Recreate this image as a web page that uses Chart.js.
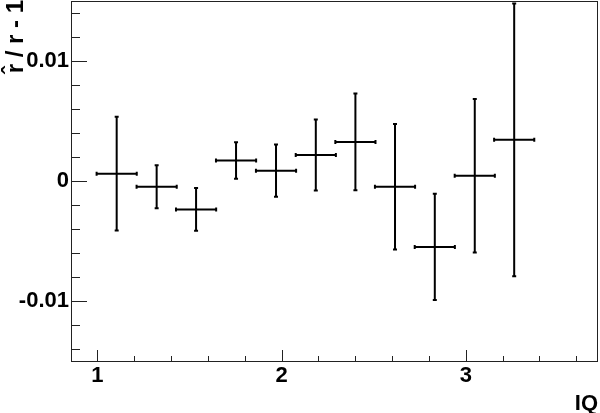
<!DOCTYPE html>
<html>
<head>
<meta charset="utf-8">
<script src="https://cdn.jsdelivr.net/npm/chart.js@4"></script>
<style>
  body { margin: 0; background: #fff; }
  #wrap { width: 600px; height: 413px; }
</style>
</head>
<body>
<div id="wrap"><canvas id="ratioChart" width="600" height="413"></canvas></div>
<script>
// bin centres (IQ) and measured r^/r - 1 with errors
const iqCenters = [1.105, 1.322, 1.536, 1.753, 1.970, 2.186, 2.401, 2.616, 2.832, 3.049, 3.263];
const iqHalfWidth = [0.109, 0.109, 0.109, 0.109, 0.109, 0.109, 0.109, 0.109, 0.109, 0.109, 0.109];
const ratioValues = [0.00061, -0.00048, -0.00237, 0.00170, 0.00086, 0.00217, 0.00326, -0.00048, -0.00549, 0.00044, 0.00343];
const ratioErrors = [0.00474, 0.00180, 0.00178, 0.00152, 0.00218, 0.00296, 0.00404, 0.00522, 0.00443, 0.00640, 0.01137];

const xTickLabels = [1, 2, 3];
const yTickLabels = [-0.01, 0, 0.01];

const boldFont = "'Liberation Sans', Arial, sans-serif";

// ROOT-style frame, inward ticks, error bars, axis titles
const rootStyle = {
    id: 'rootStyle',
    afterDatasetsDraw(chart) {
        const ctx = chart.ctx;
        const xs = chart.scales.x;
        const ys = chart.scales.y;
        const area = chart.chartArea;

        ctx.save();
        ctx.strokeStyle = '#000';
        ctx.lineWidth = 2;
        iqCenters.forEach((xv, i) => {
            const px = xs.getPixelForValue(xv);
            const py = ys.getPixelForValue(ratioValues[i]);
            const x0 = xs.getPixelForValue(xv - iqHalfWidth[i]);
            const x1 = xs.getPixelForValue(xv + iqHalfWidth[i]);
            const y0 = ys.getPixelForValue(ratioValues[i] + ratioErrors[i]);
            const y1 = ys.getPixelForValue(ratioValues[i] - ratioErrors[i]);
            ctx.beginPath();
            ctx.moveTo(x0, py); ctx.lineTo(x1, py);
            ctx.moveTo(px, y0); ctx.lineTo(px, y1);
            // small end caps
            ctx.moveTo(x0, py - 2); ctx.lineTo(x0, py + 2);
            ctx.moveTo(x1, py - 2); ctx.lineTo(x1, py + 2);
            ctx.moveTo(px - 2, y0); ctx.lineTo(px + 2, y0);
            ctx.moveTo(px - 2, y1); ctx.lineTo(px + 2, y1);
            ctx.stroke();
        });

        // frame
        ctx.lineWidth = 1;
        ctx.strokeStyle = '#222';
        ctx.strokeRect(area.left + 0.5, area.top + 0.5, area.right - area.left - 1, area.bottom - area.top);

        // x ticks, major every 1, minor every 0.2
        ctx.beginPath();
        for (let k = Math.ceil(xs.min * 5); k <= Math.floor(xs.max * 5); k++) {
            const px = Math.round(xs.getPixelForValue(k / 5)) + 0.5;
            const len = (k % 5 === 0) ? 11 : 5;
            ctx.moveTo(px, area.bottom);
            ctx.lineTo(px, area.bottom - len);
        }
        // y ticks, major every 0.01, minor every 0.002
        for (let k = Math.ceil(ys.min * 500); k <= Math.floor(ys.max * 500); k++) {
            const py = Math.round(ys.getPixelForValue(k / 500)) + 0.5;
            const len = (k % 5 === 0) ? 16 : 9;
            ctx.moveTo(area.left, py);
            ctx.lineTo(area.left + len, py);
        }
        ctx.stroke();

        // axis titles
        ctx.fillStyle = '#000';
        ctx.font = 'bold 22px ' + boldFont;
        ctx.textAlign = 'right';
        ctx.textBaseline = 'alphabetic';
        ctx.fillText('IQ', 598, 410);

        ctx.translate(23, 0);
        ctx.rotate(-Math.PI / 2);
        ctx.font = 'bold 24px ' + boldFont;
        ctx.fillText('r\u0302 / r - 1', 0, 0);
        ctx.restore();
    }
};

const ratioctx = document.getElementById('ratioChart').getContext('2d');
const ratioChart = new Chart(ratioctx, {
    type: 'scatter',
    data: {
        datasets: [{
            label: 'r / r - 1',
            data: iqCenters.map((x, i) => ({ x: x, y: ratioValues[i] })),
            pointRadius: 0,
            showLine: false
        }]
    },
    options: {
        responsive: false,
        devicePixelRatio: 1,
        animation: false,
        layout: {
            padding: { top: 1, right: 2, left: 0, bottom: 0 }
        },
        plugins: {
            legend: { display: false },
            tooltip: { enabled: false }
        },
        scales: {
            x: {
                type: 'linear',
                min: 0.857,
                max: 3.718,
                afterBuildTicks: s => { s.ticks = xTickLabels.map(v => ({ value: v })); },
                afterFit: s => {
                    s.height = 52;
                    s.paddingLeft = 0;
                    s.paddingRight = 0;
                },
                grid: { display: false, drawTicks: false },
                border: { display: false },
                ticks: {
                    padding: 2,
                    color: '#000',
                    font: { family: boldFont, size: 22, weight: 'bold' },
                    callback: v => String(v)
                }
            },
            y: {
                type: 'linear',
                min: -0.015,
                max: 0.015,
                afterBuildTicks: s => { s.ticks = yTickLabels.map(v => ({ value: v })); },
                afterFit: s => {
                    s.width = 71;
                    s.paddingTop = 0;
                    s.paddingBottom = 0;
                },
                grid: { display: false, drawTicks: false },
                border: { display: false },
                ticks: {
                    padding: 2,
                    color: '#000',
                    font: { family: boldFont, size: 22, weight: 'bold' },
                    callback: v => (v === 0 ? '0' : v.toFixed(2))
                }
            }
        }
    },
    plugins: [rootStyle]
});
</script>
</body>
</html>
